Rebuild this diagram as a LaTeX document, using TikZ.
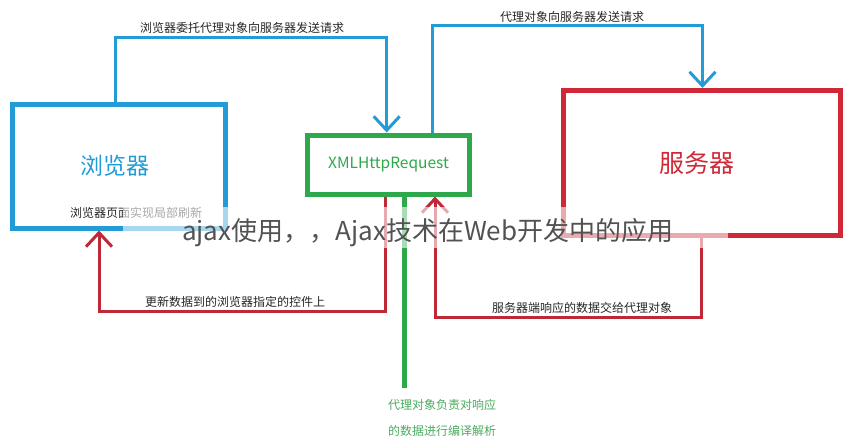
\documentclass[tikz,border=0pt]{standalone}
\usepackage{fontspec}
\setmainfont{Noto Sans CJK SC}
\usetikzlibrary{arrows.meta}
\definecolor{cblue}{RGB}{35,155,215}
\definecolor{cgreen}{RGB}{45,168,75}
\definecolor{cred}{RGB}{208,40,55}
\definecolor{cdred}{RGB}{190,40,55}
\definecolor{tgreen}{RGB}{75,170,95}
\begin{document}
\begin{tikzpicture}[x=1pt,y=-1pt,
  box/.style={draw, rectangle, line width=5pt, inner sep=0pt},
  conn/.style={line width=3pt},
  arr/.style={-{Straight Barb[length=14pt,width=26pt]}},
  lbl/.style={font=\fontsize{12}{14}\selectfont, text=black!85, inner sep=0pt}]
\path[use as bounding box] (0,0) rectangle (853,445);

% boxes
\node[box, draw=cblue, text=cblue, minimum width=212.5pt, minimum height=123.5pt,
      font=\fontsize{23}{23}\selectfont] (browser) at (118.75,166.25) {\hspace*{-8pt}浏览器};
\node[box, draw=cgreen, text=cgreen, minimum width=162pt, minimum height=59pt,
      font=\fontsize{15.5}{15.5}\selectfont] (xhr) at (388.5,164.5) {XMLHttpRequest};
\node[box, draw=cred, text=cred, minimum width=277pt, minimum height=145pt,
      font=\fontsize{25}{25}\selectfont] (server) at (702,163) {\hspace*{-10pt}服务器};

% connector corner points
\coordinate (p1) at (115.7,37.5); \coordinate (p2) at (386.7,37.5);
\coordinate (q1) at (432.5,25.5); \coordinate (q2) at (702.5,25.5);
\coordinate (r1) at (701.7,317);  \coordinate (r2) at (435,317);
\coordinate (s1) at (385,311);    \coordinate (s2) at (99,311);
\coordinate (gend) at (404,388);

% connectors
\draw[conn, cblue, arr] (browser.north -| p1) -- (p1) -- (p2) -- (xhr.north -| p2);
\draw[conn, cblue, arr] (xhr.north -| q1) -- (q1) -- (q2) -- (server.north -| q2);
\draw[conn, cdred, arr] (server.south -| r1) -- (r1) -- (r2) -- (xhr.south -| r2);
\draw[conn, cdred, arr] (xhr.south -| s1) -- (s1) -- (s2) -- (browser.south -| s2);
\draw[cgreen, line width=5pt] (xhr.south -| gend) -- (gend);

% labels
\node[lbl] (l1) at (242,28) {浏览器委托代理对象向服务器发送请求};
\node[lbl] (l2) at (572,17) {代理对象向服务器发送请求};
\node[lbl] (l3) at (136,213) {浏览器页面实现局部刷新};
\node[lbl] (l4) at (235,302) {更新数据到的浏览器指定的控件上};
\node[lbl] (l5) at (582,308) {服务器端响应的数据交给代理对象};
\node[lbl, text=tgreen, anchor=west] (g1) at (388,405) {代理对象负责对响应};
\node[lbl, text=tgreen, anchor=west] (g2) at (388,431) {的数据进行编译解析};

% translucent band and overlay caption
\fill[white, opacity=0.6] (123,207) rectangle (728,248);
\node[anchor=west, inner sep=0pt, font=\fontsize{26}{26}\selectfont, text=black!68] (wm)
  at (182,233) {ajax使用，，Ajax技术在Web开发中的应用};
\end{tikzpicture}
\end{document}
